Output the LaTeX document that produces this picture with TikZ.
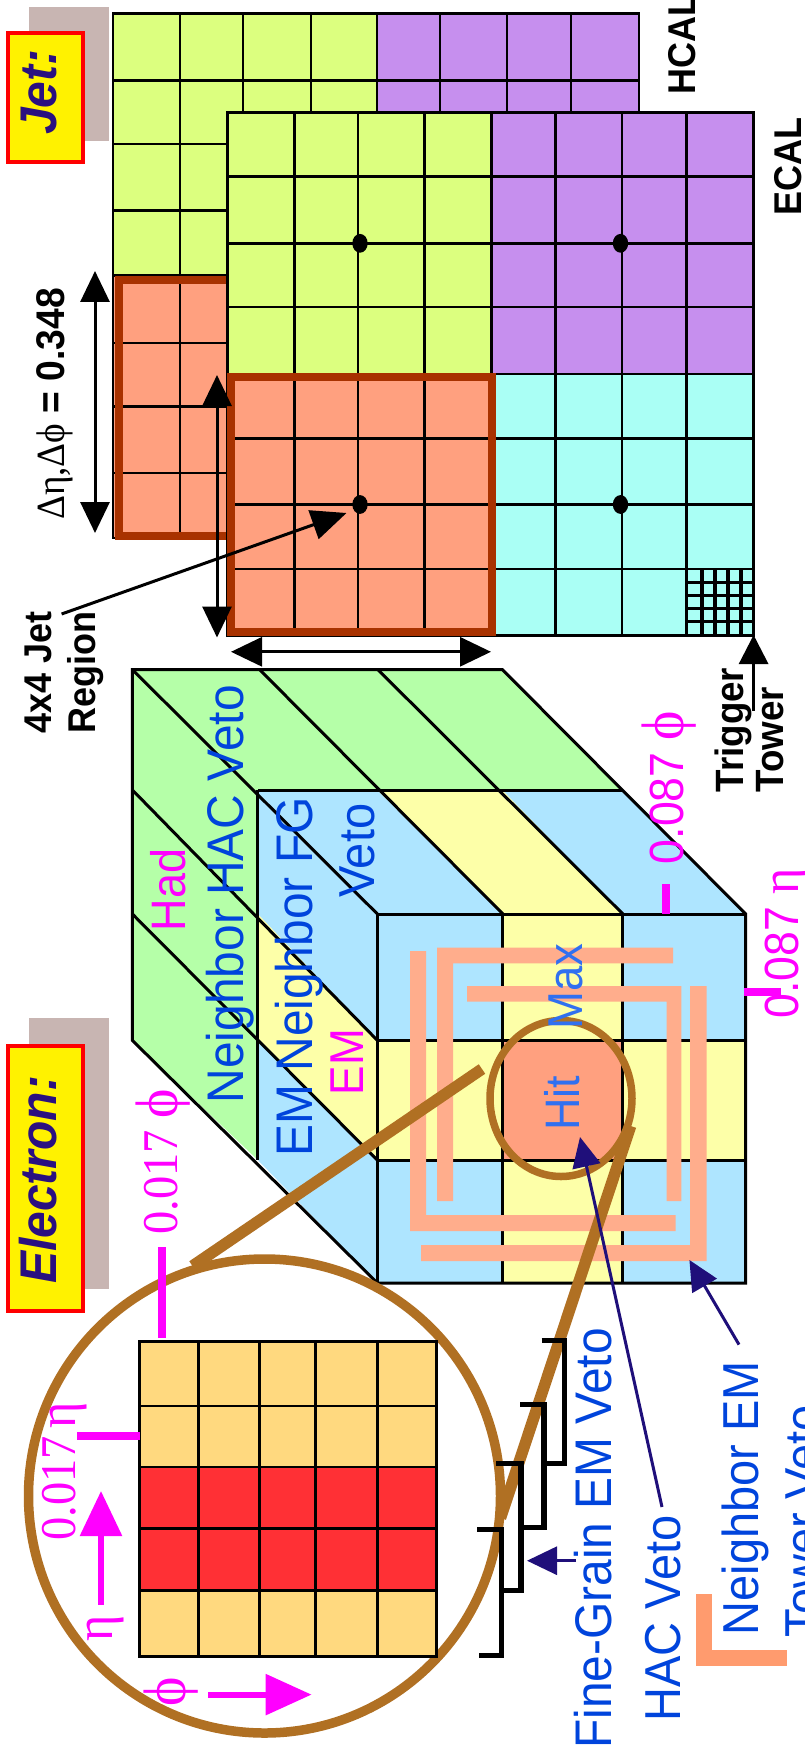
\documentclass[tikz,border=0pt]{standalone}
\usepackage{fontspec}
\setmainfont{Liberation Sans}
\newfontfamily\symfam{Liberation Serif}
\usetikzlibrary{arrows.meta}
\definecolor{hgreen}{HTML}{DCFF7F}
\definecolor{hpurple}{HTML}{C68FEE}
\definecolor{hcyan}{HTML}{AAFFF5}
\definecolor{horange}{HTML}{FFA07F}
\definecolor{hrust}{HTML}{A83200}
\definecolor{cgreen}{HTML}{B5FFA8}
\definecolor{cblue}{HTML}{AEE5FF}
\definecolor{cyellow}{HTML}{FDFFA8}
\definecolor{cpeach}{HTML}{FFAD8C}
\definecolor{lorange}{HTML}{FF9B6E}
\definecolor{ringbrown}{HTML}{B07023}
\definecolor{shadowgrey}{HTML}{C8B5B2}
\definecolor{sand}{HTML}{FFD97F}
\definecolor{hotred}{HTML}{FF3035}
\definecolor{navy}{HTML}{1F0F7A}
\definecolor{titleink}{HTML}{2A1080}
\definecolor{veto}{HTML}{0044DC}
\definecolor{hitblue}{HTML}{3070F0}
\definecolor{mag}{HTML}{FF00FF}
\newcommand{\phisym}{{\symfam\fontsize{60}{60}\selectfont ϕ}}
\newcommand{\etasym}{{\symfam\fontsize{54}{54}\selectfont η}}
\tikzset{
  lbl/.style={anchor=base west,rotate=90,xscale=0.93,inner sep=0pt},
  bigarrow/.style={line width=3pt,{Triangle[length=31pt,width=29pt]}-{Triangle[length=31pt,width=29pt]}},
  navyarrow/.style={draw=navy,line width=3pt,-{Triangle[length=30pt,width=28pt]}},
  brace/.style={line width=5.5pt,line join=miter},
  tick/.style={mag,line width=8pt},
}
\begin{document}
\begin{tikzpicture}[x=1pt, y=-1pt, line width=2.5pt]

  %% ════ HCAL ════
  \fill[hgreen] (113,13.4) rectangle (377,275.4);
  \fill[hpurple] (377,13.4) rectangle (639,275.4);
  \fill[horange] (113,275.4) rectangle (377,538);
  \draw (113,13.4) rectangle (639,538);
  \draw (180,13.4) -- (180,538) (243,13.4) -- (243,538) (311,13.4) -- (311,538) (377,13.4) -- (377,538);
  \draw (440,13.4) -- (440,275) (507,13.4) -- (507,275) (571,13.4) -- (571,275);
  \draw (113,80.4) -- (639,80.4) (113,144.2) -- (639,144.2) (113,210.7) -- (639,210.7) (113,275.4) -- (639,275.4);
  \draw (113,342.9) -- (377,342.9) (113,406.3) -- (377,406.3) (113,473.2) -- (377,473.2);
  \draw[hrust,line width=8pt] (118.6,280) rectangle (300,535.7);

  %% ════ ECAL ════
  \fill[hgreen] (227.4,112.5) rectangle (491.3,374.1);
  \fill[hpurple] (491.3,112.5) rectangle (753.6,374.1);
  \fill[horange] (227.4,374.1) rectangle (491.3,635.3);
  \fill[hcyan] (491.3,374.1) rectangle (753.6,635.3);
  \draw (227.4,112.5) rectangle (753.6,635.3);
  \draw (294.7,112.5) -- (294.7,635.3) (357.8,112.5) -- (357.8,635.3) (424.5,112.5) -- (424.5,635.3) (491.3,112.5) -- (491.3,635.3);
  \draw (555.4,112.5) -- (555.4,635.3) (622.2,112.5) -- (622.2,635.3) (686.3,112.5) -- (686.3,635.3);
  \draw (227.4,176.3) -- (753.6,176.3) (227.4,243.3) -- (753.6,243.3) (227.4,307.1) -- (753.6,307.1) (227.4,374.1) -- (753.6,374.1);
  \draw (227.4,438.4) -- (753.6,438.4) (227.4,504.5) -- (753.6,504.5) (227.4,569.2) -- (753.6,569.2);
  % the finer cells of one tower
  \draw[line width=3.2pt] (702,569.2) -- (702,635.3) (715,569.2) -- (715,635.3) (728,569.2) -- (728,635.3) (741,569.2) -- (741,635.3);
  \draw[line width=3.2pt] (686.3,582.1) -- (753.6,582.1) (686.3,595.5) -- (753.6,595.5) (686.3,608.5) -- (753.6,608.5) (686.3,621.4) -- (753.6,621.4);
  \draw[hrust,line width=8pt] (231.3,376.6) rectangle (491.6,632.3);
  \fill (360,243.3) ellipse (7.7 and 9.4);
  \fill (620.5,243.3) ellipse (7.7 and 9.4);
  \fill (360,504.5) ellipse (7.7 and 9.4);
  \fill (620.5,504.5) ellipse (7.7 and 9.4);

  %% ════ arrows round the grids ════
  \coordinate (etaTop) at (95,271);
  \coordinate (etaBot) at (95,533);
  \coordinate (ecalTop) at (217,375);
  \coordinate (ecalBot) at (217,637.5);
  \coordinate (ecalLeft) at (231,651.8);
  \coordinate (ecalRight) at (491,651.8);
  \coordinate (towerTail) at (753.6,711);
  \coordinate (towerTip) at (753.6,635);
  \coordinate (regionTail) at (61.6,614);
  \coordinate (regionTip) at (346.5,513);
  \draw[bigarrow] (etaTop) -- (etaBot);
  \draw[bigarrow] (ecalTop) -- (ecalBot);
  \draw[bigarrow] (ecalLeft) -- (ecalRight);
  \draw[line width=3pt,-{Triangle[length=29pt,width=29pt]}] (towerTail) -- (towerTip);
  \draw[line width=3pt,-{Triangle[length=35pt,width=30pt]}] (regionTail) -- (regionTip);

  %% ════ tower cube ════
  \fill[cgreen] (132.4,669.6) -- (502.4,669.6) -- (622.9,790) -- (257.8,790) -- (257.8,1160) -- (132.4,1040.4) -- cycle;
  \fill[cblue] (257.8,790) -- (377.4,790) -- (502.9,914) -- (377.4,914) -- (377.4,1040.4) -- (257.8,914) -- cycle;
  \fill[cyellow] (377.4,790) -- (502.4,790) -- (622.9,914) -- (502.9,914) -- cycle;
  \fill[cblue] (502.4,790) -- (622.9,790) -- (745.7,914) -- (622.9,914) -- cycle;
  \fill[cyellow] (257.8,914) -- (377.4,1040.4) -- (377.4,1160) -- (257.8,1040.4) -- cycle;
  \fill[cblue] (257.8,1040.4) -- (377.4,1160) -- (377.4,1283) -- (257.8,1160) -- cycle;
  \fill[cblue] (377.4,914) rectangle (745.7,1283);
  \fill[cyellow] (502.9,914) rectangle (622.9,1283);
  \fill[cyellow] (377.4,1040.4) rectangle (745.7,1160.2);
  \fill[horange] (502.9,1040.4) rectangle (622.9,1160.2);
  \draw[line width=3pt] (132.4,669.6) -- (502.4,669.6) -- (745.7,914) -- (745.7,1283) -- (377.4,1283) -- (132.4,1040.4) -- cycle;
  \draw[line width=3pt] (132.4,669.6) -- (377.4,914) (259.6,669.6) -- (502.9,914) (377.9,669.6) -- (622.9,914);
  \draw[line width=3pt] (132.4,790) -- (377.4,1040.4) (132.4,914) -- (377.4,1160.2);
  \draw[line width=3pt] (257.8,790) -- (622.9,790) (377.4,914) -- (745.7,914) (257.8,790) -- (257.8,1160);
  \draw[line width=3pt] (377.4,914) -- (377.4,1283) (502.9,914) -- (502.9,1283) (622.9,914) -- (622.9,1283);
  \draw[line width=3pt] (377.4,1040.4) -- (745.7,1040.4) (377.4,1160.2) -- (745.7,1160.2);

  %% ════ neighbour strips ════
  \fill[cpeach] (410,951) -- (426,951) -- (426,1215) -- (675.5,1215) -- (675.5,1231) -- (410,1231) -- cycle;
  \fill[cpeach] (437,947.5) -- (673,947.5) -- (673,963.3) -- (453,963.3) -- (453,1201) -- (437,1201) -- cycle;
  \fill[cpeach] (467,986) -- (681.4,986) -- (681.4,1201) -- (666.5,1201) -- (666.5,1001.7) -- (467,1001.7) -- cycle;
  \fill[cpeach] (690,986) -- (706.6,986) -- (706.6,1261) -- (421,1261) -- (421,1245) -- (690,1245) -- cycle;

  %% ════ rings and lens lines ════
  \coordinate (smallRingA) at (482,1069);
  \coordinate (bigRingA) at (192.5,1266);
  \coordinate (smallRingB) at (630.6,1126);
  \coordinate (bigRingB) at (500.5,1518);
  \draw[ringbrown,line width=7.5pt] (561,1098.5) ellipse (71 and 78);
  \draw[ringbrown,line width=9.5pt] (264.5,1496) ellipse (236 and 237);
  \draw[ringbrown,line width=11.5pt] (smallRingA) -- (bigRingA);
  \draw[ringbrown,line width=11.5pt] (smallRingB) -- (bigRingB);

  %% ════ crystal grid ════
  \fill[sand] (139.6,1341.8) rectangle (436.3,1467);
  \fill[hotred] (139.6,1467) rectangle (436.3,1590.4);
  \fill[sand] (139.6,1590.4) rectangle (436.3,1656.4);
  \draw[line width=2.8pt] (139.6,1341.8) rectangle (436.3,1656.4);
  \draw[line width=2.8pt] (198.7,1341.8) -- (198.7,1656.4) (259.2,1341.8) -- (259.2,1656.4) (315.2,1341.8) -- (315.2,1656.4) (377.3,1341.8) -- (377.3,1656.4);
  \draw[line width=2.8pt] (139.6,1406) -- (436.3,1406) (139.6,1467) -- (436.3,1467) (139.6,1528.6) -- (436.3,1528.6) (139.6,1590.4) -- (436.3,1590.4);

  %% ════ magenta ticks and arrows ════
  \draw[tick] (161.7,1247) -- (161.7,1337.5);
  \draw[tick] (77,1435.7) -- (139.6,1435.7);
  \draw[tick] (666,884) -- (666,914);
  \draw[tick] (744,992) -- (781,992);
  \coordinate (etaTail) at (101,1604.6);
  \coordinate (etaTip) at (101,1491);
  \coordinate (phiTail) at (208,1694.6);
  \coordinate (phiTip) at (311.6,1694.6);
  \draw[mag,line width=6pt,-{Triangle[length=45pt,width=41pt]}] (etaTail) -- (etaTip);
  \draw[mag,line width=6pt,-{Triangle[length=46pt,width=40pt]}] (phiTail) -- (phiTip);

  %% ════ brackets ════
  \draw[brace] (541.6,1340.4) -- (564.7,1340.4) -- (564.7,1463.6) -- (544,1463.6);
  \draw[brace] (520,1404.6) -- (544,1404.6) -- (544,1527.5) -- (521,1527.5);
  \draw[brace] (496,1463.6) -- (521,1463.6) -- (521,1590.4) -- (503,1590.4);
  \draw[brace] (477.4,1529.6) -- (501.5,1529.6) -- (501.5,1655.4) -- (479,1655.4);
  \draw[lorange,line width=16pt,line join=miter] (704,1594) -- (704,1658) -- (787,1658);

  %% ════ veto arrows ════
  \coordinate (hacTail) at (662,1507);
  \coordinate (hacTip) at (580,1137);
  \coordinate (nbrTail) at (739,1344.6);
  \coordinate (nbrTip) at (689.4,1260);
  \coordinate (fineTail) at (576,1560.7);
  \coordinate (fineTip) at (527,1560.7);
  \draw[navyarrow] (hacTail) -- (hacTip);
  \draw[navyarrow] (nbrTail) -- (nbrTip);
  \draw[navyarrow] (fineTail) -- (fineTip);

  %% ════ title boxes ════
  \fill[shadowgrey] (28.7,7) rectangle (108.8,140.6);
  \fill[shadowgrey] (28.7,1017.5) rectangle (108.8,1289);
  \node[fill=yellow,draw=red,line width=4.2pt,minimum width=75pt,minimum height=128.5pt,inner sep=0pt] (jetBox) at (45.3,97.5) {};
  \node[fill=yellow,draw=red,line width=4.2pt,minimum width=75pt,minimum height=265.5pt,inner sep=0pt] (electronBox) at (45.3,1178.5) {};
  \node[lbl,text=titleink,font=\fontsize{51.6}{60}\selectfont\bfseries\itshape] (jetText) at (56,136) {Jet:};
  \node[lbl,text=titleink,font=\fontsize{51.6}{60}\selectfont\bfseries\itshape] (electronText) at (56,1285) {Electron:};

  %% ════ black labels ════
  \node[lbl,font=\fontsize{38.7}{46}\selectfont\bfseries] (hcalText) at (695.6,96) {HCAL};
  \node[lbl,font=\fontsize{38.7}{46}\selectfont\bfseries] (ecalText) at (801,216.5) {ECAL};
  \node[lbl,font=\fontsize{40}{48}\selectfont] (widthText) at (64,521) {{\symfam Δη,Δϕ} \textbf{= 0.348}};
  \node[lbl,font=\fontsize{38.7}{46}\selectfont\bfseries] (regionTextA) at (51.3,735) {4x4 Jet};
  \node[lbl,font=\fontsize{38.7}{46}\selectfont\bfseries] (regionTextB) at (95,735) {Region};
  \node[lbl,font=\fontsize{39.5}{47}\selectfont\bfseries] (towerTextA) at (743,793.4) {Trigger};
  \node[lbl,font=\fontsize{39.5}{47}\selectfont\bfseries] (towerTextB) at (783.5,793.4) {Tower};

  %% ════ magenta labels ════
  \node[lbl,text=mag,font=\fontsize{48.4}{58}\selectfont] (hadText) at (185.4,932.5) {Had};
  \node[lbl,text=mag,font=\fontsize{47.5}{57}\selectfont] (emText) at (363,1096.5) {EM};
  \node[lbl,text=mag,font=\fontsize{48}{58}\selectfont] (sizeTextA) at (683,865.3) {0.087 \phisym};
  \node[lbl,text=mag,font=\fontsize{48}{58}\selectfont] (sizeTextB) at (798,1019.4) {0.087 \etasym};
  \node[lbl,text=mag,font=\fontsize{50}{60}\selectfont\symfam] (cellTextA) at (177,1236) {0.017 \phisym};
  \node[lbl,text=mag,font=\fontsize{50}{60}\selectfont\symfam] (cellTextB) at (75.5,1542) {0.017\,\etasym};
  \node[lbl,text=mag,font=\fontsize{50}{60}\selectfont\symfam] (etaText) at (112,1643) {\etasym};
  \node[lbl,text=mag,font=\fontsize{50}{60}\selectfont\symfam] (phiText) at (185,1708) {\phisym};

  %% ════ blue labels ════
  \node[lbl,text=veto,font=\fontsize{51.5}{62}\selectfont] (hacNbrText) at (243.9,1104.4) {Neighbor HAC Veto};
  \node[lbl,text=veto,font=\fontsize{51.5}{62}\selectfont] (fgNbrText) at (312.2,1157.8) {EM Neighbor FG};
  \node[lbl,text=veto,font=\fontsize{50.5}{60}\selectfont] (fgNbrVeto) at (374.3,899) {Veto};
  \node[lbl,text=hitblue,font=\fontsize{49}{59}\selectfont] (maxText) at (582,1030.5) {Max};
  \node[lbl,text=hitblue,font=\fontsize{48.4}{58}\selectfont] (hitText) at (579,1132) {Hit};
  \node[lbl,text=veto,font=\fontsize{51.5}{62}\selectfont] (fineText) at (611,1750) {Fine-Grain EM Veto};
  \node[lbl,text=veto,font=\fontsize{50.5}{60}\selectfont] (hacText) at (680,1723) {HAC Veto};
  \node[lbl,text=veto,font=\fontsize{50.5}{60}\selectfont] (nbrTextA) at (758,1636.4) {Neighbor EM};
  \node[lbl,text=veto,font=\fontsize{50.5}{60}\selectfont] (nbrTextB) at (820,1639) {Tower Veto};

  % pin the canvas, some text runs past the edge
  \pgfresetboundingbox
  \path[use as bounding box] (0,0) rectangle (805,1760);
\end{tikzpicture}
\end{document}
